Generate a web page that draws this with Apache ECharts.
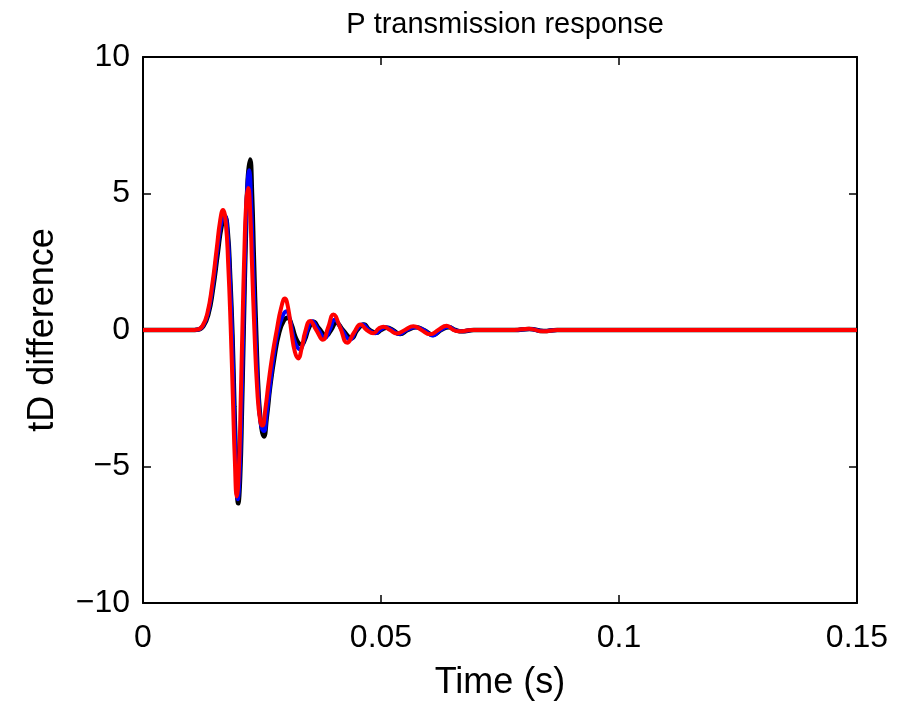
<!DOCTYPE html>
<html>
<head>
<meta charset="utf-8">
<script src="https://cdn.jsdelivr.net/npm/echarts@6/dist/echarts.min.js"></script>
<style>
html,body{margin:0;padding:0;background:#fff;}
#chart{width:907px;height:703px;}
</style>
</head>
<body>
<div id="chart"></div>
<script>
var titleText = 'P transmission response';
var xLabel = 'Time (s)';
var yLabel = 'tD difference';

var blackData = [
[0,0],[0.0100,0],[0.0117,0.02],[0.0127,0.15],[0.0137,0.55],[0.0147,1.5],[0.0157,2.8],[0.0165,3.8],[0.0172,4.15],[0.0178,3.6],[0.0183,2.0],[0.0188,-0.2],[0.0192,-2.8],[0.0196,-5.0],[0.0200,-6.35],[0.0204,-5.4],[0.0208,-2.8],[0.0212,0.4],[0.0216,3.4],[0.0220,5.5],[0.0225,6.25],[0.0229,5.0],[0.0233,2.6],[0.0238,-0.2],[0.0243,-2.4],[0.0249,-3.6],[0.0254,-3.9],[0.0260,-3.2],[0.0267,-2.1],[0.0276,-1.0],[0.0286,-0.1],[0.0296,0.35],[0.0304,0.45],[0.0312,0.2],[0.0320,-0.25],[0.0327,-0.48],[0.0333,-0.53],[0.0340,-0.35],[0.0348,0.05],[0.0358,0.3],[0.0370,0.05],[0.0385,-0.2],[0.0395,0.0],[0.0406,0.27],[0.0420,0.0],[0.0438,-0.3],[0.0450,0.0],[0.0464,0.2],[0.0476,0.0],[0.0490,-0.1],[0.0500,0.0],[0.0512,0.08],[0.0525,0.0],[0.0540,-0.15],[0.0556,0.0],[0.0574,0.1],[0.0590,0.0],[0.0610,-0.18],[0.0626,0.0],[0.0643,0.1],[0.0656,0.0],[0.0670,-0.05],[0.0695,0.0],[0.0780,0.0],[0.0812,0.04],[0.0842,-0.04],[0.0870,0.0],[0.15,0]
];

var blueData = [
[0,0],[0.0100,0],[0.0116,0.02],[0.0126,0.15],[0.0136,0.58],[0.0146,1.55],[0.0156,2.9],[0.0164,3.9],[0.0171,4.2],[0.0177,3.7],[0.0182,2.1],[0.0187,-0.1],[0.0191,-2.7],[0.0195,-4.9],[0.0199,-6.2],[0.0203,-5.3],[0.0207,-2.8],[0.0211,0.3],[0.0215,3.2],[0.0219,5.2],[0.0223,5.85],[0.0227,4.8],[0.0231,2.6],[0.0236,0.0],[0.0242,-2.3],[0.0248,-3.5],[0.0254,-3.7],[0.0260,-3.0],[0.0267,-2.0],[0.0275,-0.9],[0.0284,0.0],[0.0293,0.5],[0.0301,0.69],[0.0309,0.35],[0.0316,-0.25],[0.0323,-0.6],[0.0330,-0.71],[0.0337,-0.45],[0.0345,0.0],[0.0355,0.32],[0.0367,0.05],[0.0382,-0.29],[0.0392,0.0],[0.0403,0.38],[0.0418,0.0],[0.0435,-0.35],[0.0448,0.0],[0.0462,0.2],[0.0474,0.0],[0.0488,-0.12],[0.0498,0.0],[0.0510,0.1],[0.0523,0.0],[0.0538,-0.15],[0.0554,0.0],[0.0572,0.1],[0.0590,0.0],[0.0609,-0.2],[0.0625,0.0],[0.0642,0.12],[0.0655,0.0],[0.0668,-0.05],[0.0692,0.0],[0.0780,0.0],[0.0811,0.04],[0.0841,-0.04],[0.0870,0.0],[0.15,0]
];

var redData = [
[0,0],[0.0100,0],[0.0115,0.02],[0.0125,0.15],[0.0135,0.6],[0.0145,1.6],[0.0155,3.0],[0.0162,4.0],[0.0168,4.4],[0.0174,3.9],[0.0179,2.4],[0.0184,0.2],[0.0189,-2.6],[0.0193,-4.8],[0.0197,-6.1],[0.0201,-5.3],[0.0205,-2.8],[0.0209,0.2],[0.0213,2.9],[0.0217,4.7],[0.0221,5.2],[0.0225,4.4],[0.0229,2.4],[0.0234,0.0],[0.0240,-2.2],[0.0246,-3.3],[0.0251,-3.5],[0.0257,-2.9],[0.0264,-1.9],[0.0272,-0.9],[0.0281,0.0],[0.0290,0.8],[0.0298,1.15],[0.0305,0.8],[0.0312,-0.1],[0.0319,-0.8],[0.0326,-1.04],[0.0333,-0.7],[0.0341,-0.05],[0.0351,0.33],[0.0364,0.0],[0.0378,-0.36],[0.0389,0.1],[0.0400,0.57],[0.0414,0.1],[0.0429,-0.47],[0.0443,-0.1],[0.0457,0.2],[0.0470,0.0],[0.0484,-0.12],[0.0495,0.05],[0.0505,0.12],[0.0519,0.0],[0.0533,-0.13],[0.0550,0.0],[0.0568,0.14],[0.0585,0.0],[0.0603,-0.16],[0.0620,0.0],[0.0638,0.16],[0.0652,0.0],[0.0665,-0.05],[0.0690,0.0],[0.0780,0.0],[0.0810,0.05],[0.0840,-0.05],[0.0870,0.0],[0.15,0]
];

var xMin = 0, xMax = 0.15, xStep = 0.05;
var yMin = -10, yMax = 10, yStep = 5;

var font = 'Liberation Sans, Arial, Helvetica, sans-serif';
var chart = echarts.init(document.getElementById('chart'), null, {renderer: 'canvas'});

function minusFmt(v){ return String(v).replace('-', '\u2212'); }

var axisLineStyle = {color: '#000', width: 2};
function baseAxis(min, max, step) {
  return {
    type: 'value', min: min, max: max, interval: step,
    axisLine: {show: true, onZero: false, lineStyle: axisLineStyle},
    axisTick: {show: true, inside: true, length: 8, lineStyle: {color: '#000', width: 1.5}},
    splitLine: {show: false}
  };
}

chart.setOption({
  animation: false,
  backgroundColor: '#fff',
  title: {
    text: titleText, left: 500, top: 5, textAlign: 'center',
    textStyle: {fontFamily: font, fontSize: 29, fontWeight: 'normal', color: '#000'}
  },
  grid: {left: 143, top: 57, right: 50, bottom: 100, containLabel: false, outerBoundsMode: 'none'},
  xAxis: [
    Object.assign(baseAxis(xMin, xMax, xStep), {
      position: 'bottom',
      name: xLabel, nameLocation: 'middle', nameGap: 62,
      nameTextStyle: {fontFamily: font, fontSize: 36, color: '#000'},
      axisLabel: {show: true, margin: 19, fontFamily: font, fontSize: 32, color: '#000', formatter: minusFmt}
    }),
    Object.assign(baseAxis(xMin, xMax, xStep), {position: 'top', axisLabel: {show: false}})
  ],
  yAxis: [
    Object.assign(baseAxis(yMin, yMax, yStep), {
      position: 'left',
      name: yLabel, nameLocation: 'middle', nameGap: 82, nameRotate: 90,
      nameTextStyle: {fontFamily: font, fontSize: 36, color: '#000'},
      axisLabel: {show: true, margin: 13, fontFamily: font, fontSize: 32, color: '#000', formatter: minusFmt, padding: [6, 0, 0, 0]}
    }),
    Object.assign(baseAxis(yMin, yMax, yStep), {position: 'right', axisLabel: {show: false}})
  ],
  series: [
    {type: 'line', data: blackData, xAxisIndex: 0, yAxisIndex: 0, showSymbol: false, smooth: 0.5,
     lineStyle: {color: '#000000', width: 4.5}, z: 2},
    {type: 'line', data: blueData, xAxisIndex: 0, yAxisIndex: 0, showSymbol: false, smooth: 0.5,
     lineStyle: {color: '#0000ff', width: 4}, z: 3},
    {type: 'line', data: redData, xAxisIndex: 0, yAxisIndex: 0, showSymbol: false, smooth: 0.5,
     lineStyle: {color: '#ff0000', width: 4}, z: 4}
  ]
});
</script>
</body>
</html>
